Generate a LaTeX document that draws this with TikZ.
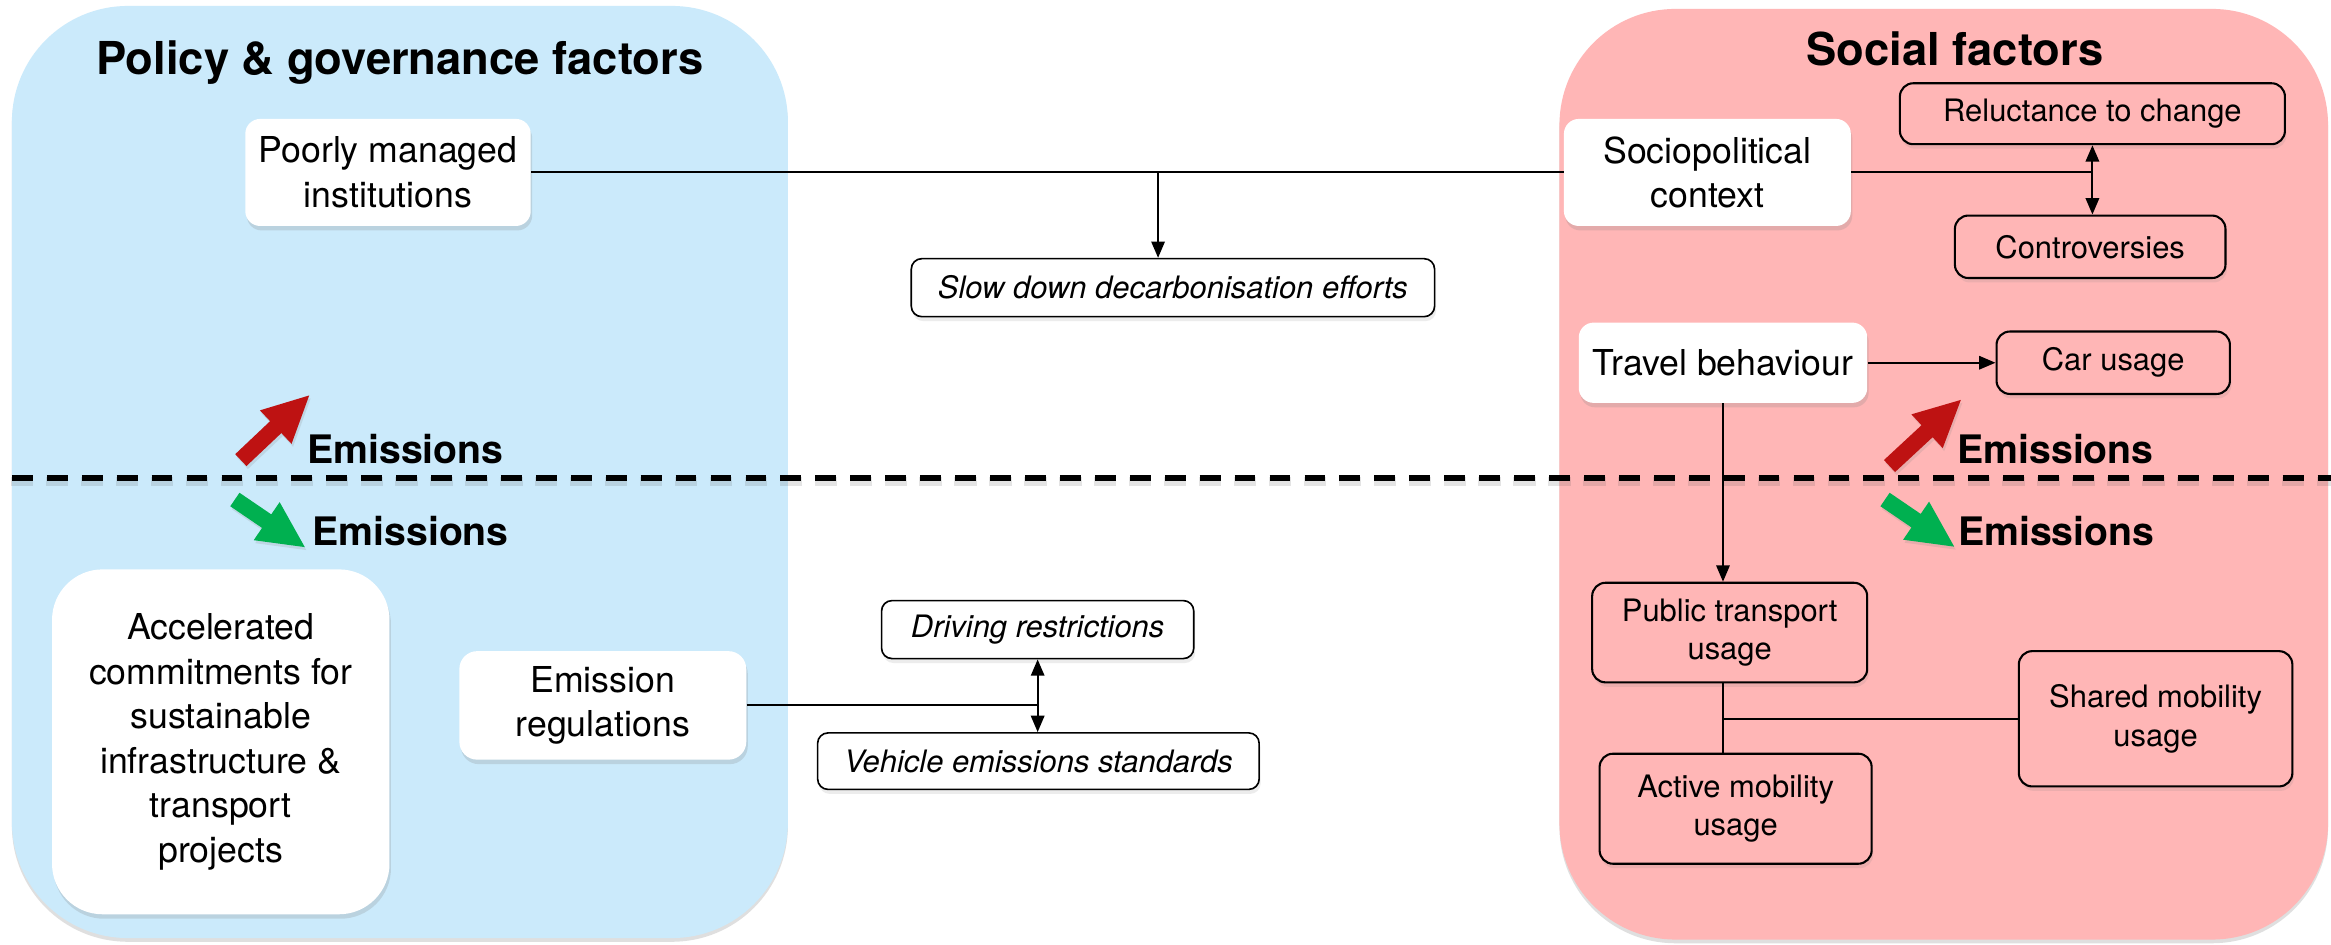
\documentclass[tikz,border=0pt]{standalone}
\usepackage{fontspec}
\setmainfont{TeX Gyre Heros}
\usetikzlibrary{shadows,calc,arrows.meta}
\definecolor{panelblue}{RGB}{203,234,251}
\definecolor{panelpink}{RGB}{255,182,182}
\definecolor{arrred}{RGB}{190,18,18}
\definecolor{arrgreen}{RGB}{0,176,80}
\newcommand\bigf{\fontsize{24}{30}\selectfont}
\newcommand\smallf{\fontsize{20.8}{26}\selectfont}
\newcommand\titlef{\fontsize{30.5}{36}\selectfont\bfseries}
\newcommand\emf{\fontsize{26.4}{32}\selectfont\bfseries}
\newcommand\blockarrow[3]{%
  \coordinate (ab) at ($(#2)!31pt!(#1)$);
  \fill[#3, drop shadow={opacity=0.18, shadow xshift=1pt, shadow yshift=-2pt}]
    ($(#1)!5.5pt!90:(#2)$) -- ($(ab)!5.5pt!-90:(#1)$) -- ($(ab)!15.5pt!-90:(#1)$) -- (#2)
    -- ($(ab)!15.5pt!90:(#1)$) -- ($(ab)!5.5pt!90:(#1)$) -- ($(#1)!5.5pt!-90:(#2)$) -- cycle;}
\begin{document}
\begin{tikzpicture}[x=1pt,y=-1pt,
  panel/.style={rounded corners=78pt, drop shadow={opacity=0.25, shadow xshift=0pt, shadow yshift=-2.5pt}},
  wbox/.style={fill=white, rounded corners=10pt, inner sep=0pt, align=center, font=\bigf,
    drop shadow={opacity=0.22, shadow xshift=1pt, shadow yshift=-3pt}},
  pbox/.style={fill=panelpink, draw=black, line width=1.4pt, rounded corners=9pt, inner sep=0pt,
    align=center, font=\smallf, drop shadow={opacity=0.15, shadow xshift=1pt, shadow yshift=-3pt}},
  ibox/.style={fill=white, draw=black, line width=1.1pt, rounded corners=7pt, inner sep=0pt,
    font=\smallf\itshape, drop shadow={opacity=0.15, shadow xshift=1pt, shadow yshift=-3pt}},
  conn/.style={line width=1.4pt},
  arr/.style={conn, -{Triangle[length=11pt,width=9pt]}},
  darr/.style={conn, {Triangle[length=11pt,width=9pt]}-{Triangle[length=11pt,width=9pt]}},
  ttl/.style={font=\titlef, anchor=base, inner sep=0pt},
  emis/.style={font=\emf, anchor=base west, inner sep=0pt},
]
\useasboundingbox (0,0) rectangle (1568,635);
\fill[white] (0,0) rectangle (1568,635);

% panels
\fill[panelblue, panel] (8,4) rectangle (530,631);
\fill[panelpink, panel] (1049,6) rectangle (1566,632);

% titles
\node[ttl] (t1) at (269,50) {Policy \& governance factors};
\node[ttl] (t2) at (1315,44) {Social factors};

% dashed separator
\draw[line width=6pt, black!70, opacity=0.15, dash pattern=on 15pt off 8.5pt] (7.5,324) -- (1568,324);
\draw[line width=3.6pt, dash pattern=on 14pt off 9.5pt] (8,321.6) -- (1568,321.6);

% emission arrows
\coordinate (rt1) at (162,309.5); \coordinate (rh1) at (208,266);
\coordinate (gt1) at (158,336);   \coordinate (gh1) at (205,368);
\coordinate (rt2) at (1271,313.5); \coordinate (rh2) at (1319,269);
\coordinate (gt2) at (1268,336);  \coordinate (gh2) at (1314.5,367.7);
\blockarrow{rt1}{rh1}{arrred}
\blockarrow{gt1}{gh1}{arrgreen}
\blockarrow{rt2}{rh2}{arrred}
\blockarrow{gt2}{gh2}{arrgreen}
\node[emis] (e1) at (206.5,311.5) {Emissions};
\node[emis] (e2) at (210,367) {Emissions};
\node[emis] (e3) at (1316.5,311.5) {Emissions};
\node[emis] (e4) at (1317,367) {Emissions};

% nodes
\node[wbox, minimum width=192pt, minimum height=72pt] (poorly) at (261,116) {Poorly managed\\institutions};
\node[wbox, minimum width=193pt, minimum height=72pt] (socio) at (1148.5,116) {Sociopolitical\\context};
\node[ibox, minimum width=352pt, minimum height=39pt] (slow) at (789,193.5) {Slow down decarbonisation efforts};
\node[pbox, minimum width=259pt, minimum height=41pt] (reluct) at (1407.5,76.5) {Reluctance to change};
\node[pbox, minimum width=182pt, minimum height=42pt] (contro) at (1406,166) {Controversies};
\node[wbox, minimum width=194pt, minimum height=54pt] (travel) at (1159,244) {Travel behaviour};
\node[pbox, minimum width=157pt, minimum height=42pt] (car) at (1421.5,244) {Car usage};
\node[wbox, rounded corners=34pt, minimum width=227pt, minimum height=232pt] (accel) at (148.5,499)
  {Accelerated\\commitments for\\sustainable\\infrastructure \&\\transport\\projects};
\node[wbox, rounded corners=12pt, minimum width=193pt, minimum height=73pt] (emreg) at (405.5,474.5) {Emission\\regulations};
\node[ibox, minimum width=210pt, minimum height=39pt] (driving) at (698,423.5) {Driving restrictions};
\node[ibox, minimum width=297pt, minimum height=38pt] (vehicle) at (698.5,512) {Vehicle emissions standards};
\node[pbox, minimum width=185pt, minimum height=67pt] (public) at (1163.5,425.5) {Public transport\\usage};
\node[pbox, minimum width=183pt, minimum height=74pt] (active) at (1167.5,544) {Active mobility\\usage};
\node[pbox, minimum width=184pt, minimum height=91pt] (shared) at (1450,483.5) {Shared mobility\\usage};

% connectors
\draw[conn] (poorly.east) -- (socio.west);
\coordinate (sj) at (779,116);
\draw[arr] (sj) -- (sj |- slow.north);
\coordinate (rj) at (1407,116);
\draw[conn] (socio.east) -- (rj);
\draw[darr] (reluct.south) -- (reluct.south |- contro.north);
\draw[arr] (travel.east) -- (car.west);
\draw[arr] (travel.south) -- (travel.south |- public.north);
\coordinate (pj) at (1159,483.5);
\draw[conn] (travel.south |- public.south) -- (travel.south |- active.north);
\draw[conn] (pj) -- (shared.west);
\coordinate (ej) at (698.5,474.5);
\draw[conn] (emreg.east) -- (ej);
\draw[darr] (driving.south) -- (driving.south |- vehicle.north);
\end{tikzpicture}
\end{document}
